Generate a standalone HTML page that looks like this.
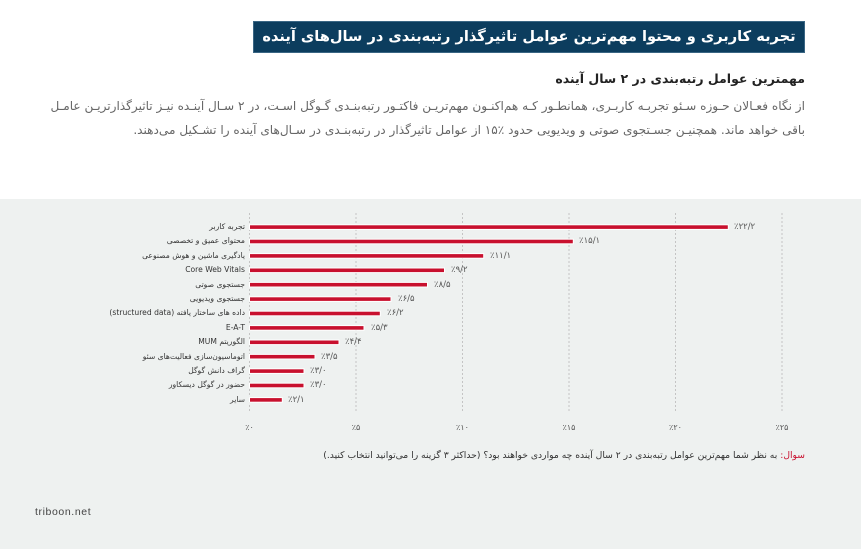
<!DOCTYPE html>
<html lang="fa">
<head>
<meta charset="utf-8">
<style>
  html,body{margin:0;padding:0;}
  body{width:861px;height:549px;position:relative;overflow:hidden;background:#ffffff;font-family:"DejaVu Sans","Liberation Sans",sans-serif;}
  .abs{position:absolute;white-space:nowrap;}
  .rtl{direction:rtl;}
  #bg{position:absolute;left:0;top:199px;width:861px;height:350px;background:#eef1f0;}
  #title{left:253px;top:21px;width:550px;height:30px;background:#0c3d5e;border:1px solid #3a6684;color:#fff;font-weight:bold;font-size:14.6px;line-height:30px;text-align:center;direction:rtl;}
  #sub{right:56px;top:71px;font-size:12.5px;font-weight:bold;color:#222;}
  .para{font-size:12.1px;color:#666;line-height:14px;}
  #p1{right:56px;top:99px;width:753px;text-align:justify;text-align-last:justify;}
  #p2{right:56px;top:123px;}
  .lab{right:616px;font-size:7.6px;color:#333;line-height:10px;}
  .val{font-size:8.5px;color:#555;line-height:10px;direction:ltr;}
  .ax{font-size:8px;color:#555;line-height:10px;direction:ltr;width:30px;text-align:center;}
  #q{right:56px;top:450px;font-size:9.2px;line-height:12px;color:#333;}
  #q span{color:#c8102e;}
  #brand{left:35px;top:506px;font-family:"Liberation Sans",sans-serif;font-size:10.5px;color:#444;letter-spacing:0.6px;}
</style>
</head>
<body>
<div id="bg"></div>

<div id="title" class="abs">تجربه کاربری و محتوا مهم‌ترین عوامل تاثیرگذار رتبه‌بندی در سال‌های آینده</div>
<div id="sub" class="abs rtl">مهمترین عوامل رتبه‌بندی در ۲ سال آینده</div>
<div id="p1" class="abs rtl para">از نگاه فعـالان حـوزه سـئو تجربـه کاربـری، همانطـور کـه هم‌اکنـون مهم‌تریـن فاکتـور رتبه‌بنـدی گـوگل اسـت، در ۲ سـال آینـده نیـز تاثیرگذارتریـن عامـل</div>
<div id="p2" class="abs rtl para">باقی خواهد ماند. همچنیـن جسـتجوی صوتی و ویدیویی حدود ٪۱۵ از عوامل تاثیرگذار در رتبه‌بنـدی در سـال‌های آینده را تشـکیل می‌دهند.</div>

<svg class="abs" style="left:0;top:0" width="861" height="549" viewBox="0 0 861 549">
  <g stroke="#c4c4c4" stroke-width="1" stroke-dasharray="2,2">
    <line x1="249.5" y1="213" x2="249.5" y2="412"/>
    <line x1="356" y1="213" x2="356" y2="412"/>
    <line x1="462.5" y1="213" x2="462.5" y2="412"/>
    <line x1="569" y1="213" x2="569" y2="412"/>
    <line x1="675.5" y1="213" x2="675.5" y2="412"/>
    <line x1="782" y1="213" x2="782" y2="412"/>
  </g>
  <g fill="#c8102e" stroke="#ffffff" stroke-width="1">
    <rect x="249.5" y="224.8" width="478.8" height="4.6"/>
    <rect x="249.5" y="239.2" width="323.8" height="4.6"/>
    <rect x="249.5" y="253.6" width="234.2" height="4.6"/>
    <rect x="249.5" y="268.0" width="195" height="4.6"/>
    <rect x="249.5" y="282.4" width="178" height="4.6"/>
    <rect x="249.5" y="296.8" width="141.5" height="4.6"/>
    <rect x="249.5" y="311.2" width="130.8" height="4.6"/>
    <rect x="249.5" y="325.6" width="114.5" height="4.6"/>
    <rect x="249.5" y="340.0" width="89.5" height="4.6"/>
    <rect x="249.5" y="354.4" width="65.5" height="4.6"/>
    <rect x="249.5" y="368.8" width="54.5" height="4.6"/>
    <rect x="249.5" y="383.2" width="54.5" height="4.6"/>
    <rect x="249.5" y="397.6" width="32.8" height="4.6"/>
  </g>
</svg>

<!-- category labels -->
<div class="abs rtl lab" style="top:222px">تجربه کاربر</div>
<div class="abs rtl lab" style="top:236.4px">محتوای عمیق و تخصصی</div>
<div class="abs rtl lab" style="top:250.8px">یادگیری ماشین و هوش مصنوعی</div>
<div class="abs rtl lab" style="top:265.2px">Core Web Vitals</div>
<div class="abs rtl lab" style="top:279.6px">جستجوی صوتی</div>
<div class="abs rtl lab" style="top:294px">جستجوی ویدیویی</div>
<div class="abs rtl lab" style="top:308.4px">داده های ساختار یافته (structured data)</div>
<div class="abs rtl lab" style="top:322.8px">E-A-T</div>
<div class="abs rtl lab" style="top:337.2px">الگوریتم MUM</div>
<div class="abs rtl lab" style="top:351.6px">اتوماسیون‌سازی فعالیت‌های سئو</div>
<div class="abs rtl lab" style="top:366px">گراف دانش گوگل</div>
<div class="abs rtl lab" style="top:380.4px">حضور در گوگل دیسکاور</div>
<div class="abs rtl lab" style="top:394.8px">سایر</div>

<!-- value labels -->
<div class="abs val" style="left:734px;top:222px">٪۲۲/۲</div>
<div class="abs val" style="left:579px;top:236.4px">٪۱۵/۱</div>
<div class="abs val" style="left:490px;top:250.8px">٪۱۱/۱</div>
<div class="abs val" style="left:451px;top:265.2px">٪۹/۲</div>
<div class="abs val" style="left:434px;top:279.6px">٪۸/۵</div>
<div class="abs val" style="left:398px;top:294px">٪۶/۵</div>
<div class="abs val" style="left:387px;top:308.4px">٪۶/۲</div>
<div class="abs val" style="left:371px;top:322.8px">٪۵/۳</div>
<div class="abs val" style="left:345px;top:337.2px">٪۴/۴</div>
<div class="abs val" style="left:321px;top:351.6px">٪۳/۵</div>
<div class="abs val" style="left:310px;top:366px">٪۳/۰</div>
<div class="abs val" style="left:310px;top:380.4px">٪۳/۰</div>
<div class="abs val" style="left:288px;top:394.8px">٪۲/۱</div>

<!-- axis labels -->
<div class="abs ax" style="left:234.5px;top:423px">٪۰</div>
<div class="abs ax" style="left:341px;top:423px">٪۵</div>
<div class="abs ax" style="left:447.5px;top:423px">٪۱۰</div>
<div class="abs ax" style="left:554px;top:423px">٪۱۵</div>
<div class="abs ax" style="left:660.5px;top:423px">٪۲۰</div>
<div class="abs ax" style="left:767px;top:423px">٪۲۵</div>

<div id="q" class="abs rtl"><span>سوال:</span> به نظر شما مهم‌ترین عوامل رتبه‌بندی در ۲ سال آینده چه مواردی خواهند بود؟ (حداکثر ۳ گزینه را می‌توانید انتخاب کنید.)</div>

<div id="brand" class="abs">triboon.net</div>
</body>
</html>
